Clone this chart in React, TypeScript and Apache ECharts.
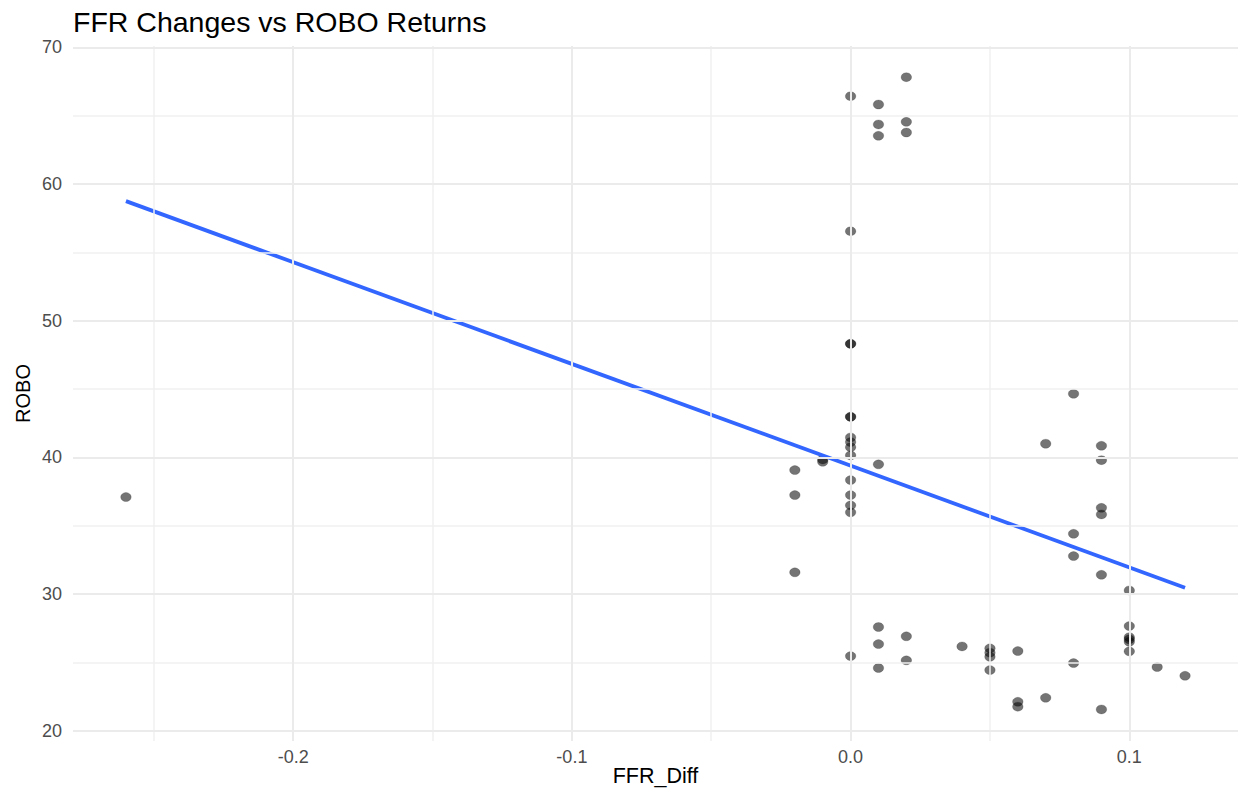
import React, { useEffect, useRef } from "react";
import * as echarts from "echarts";

const chartTitle = "FFR Changes vs ROBO Returns";
const xName = "FFR_Diff";
const yName = "ROBO";

const ffrDiff = [
  0, 0, 0, 0, 0, 0, 0, 0, 0, 0, 0, 0, 0, 0, 0,
  0.01, 0.01, 0.01, 0.01, 0.01, 0.01, 0.01,
  0.02, 0.02, 0.02, 0.02, 0.02,
  -0.01, -0.01,
  -0.02, -0.02, -0.02,
  -0.26,
  0.04,
  0.05, 0.05, 0.05, 0.05,
  0.06, 0.06, 0.06,
  0.07, 0.07,
  0.08, 0.08, 0.08, 0.08,
  0.09, 0.09, 0.09, 0.09, 0.09, 0.09,
  0.1, 0.1, 0.1, 0.1, 0.1, 0.1,
  0.11,
  0.12,
];
const robo = [
  66.43, 56.55, 48.31, 48.31, 42.97, 42.97, 41.46, 41.12, 40.75, 40.15, 38.34, 37.24, 36.49, 35.98, 25.46,
  65.82, 64.36, 63.53, 39.49, 27.59, 26.34, 24.59,
  67.82, 64.55, 63.77, 26.91, 25.15,
  39.85, 39.68,
  39.07, 37.24, 31.59,
  37.1,
  26.17,
  26.03, 25.71, 25.41, 24.44,
  25.83, 22.12, 21.76,
  41.0, 22.41,
  44.65, 34.41, 32.78, 24.95,
  40.85, 39.8, 36.31, 35.83, 31.41, 21.56,
  30.27, 27.66, 26.85, 26.69, 26.51, 25.81,
  24.66,
  24.02,
];

const fitX = [-0.26, 0.12];
const fitY = [58.75, 30.46];

const xMajorTicks = [-0.2, -0.1, 0, 0.1];
const xMinorTicks = [-0.25, -0.15, -0.05, 0.05];
const yMajorTicks = [20, 30, 40, 50, 60, 70];
const yMinorTicks = [25, 35, 45, 55, 65];

const xRange = [-0.279, 0.139];
const yRange = [19.25, 70.1];

function fmtX(v: number) {
  if (Math.abs(v) < 1e-9) return "0.0";
  return v.toFixed(1);
}

export default function App() {
  const ref = useRef<HTMLDivElement>(null);
  useEffect(() => {
    if (!ref.current) return;
    const chart = echarts.init(ref.current, undefined, { renderer: "svg" });
    const font = "'Liberation Sans', Arial, Helvetica, sans-serif";
    const gridLines = (vals: number[], axis: "xAxis" | "yAxis") =>
      vals.map((v) => ({ [axis]: v }));
    chart.setOption({
      animation: false,
      backgroundColor: "#ffffff",
      textStyle: { fontFamily: font },
      title: {
        text: chartTitle,
        left: 73,
        top: 7,
        padding: 0,
        textStyle: { fontSize: 28.5, fontWeight: "normal", color: "#000000", fontFamily: font },
      },
      grid: { left: 73, right: 1, top: 46, bottom: 49, containLabel: false, outerBoundsMode: "none" },
      xAxis: {
        type: "value",
        min: xRange[0],
        max: xRange[1],
        name: xName,
        nameLocation: "middle",
        nameGap: 24,
        nameMoveOverlap: false,
        nameTextStyle: { fontSize: 21.5, lineHeight: 22, color: "#000000", fontFamily: font },
        axisLine: { show: false },
        axisTick: { show: false, customValues: xMajorTicks },
        splitLine: { show: false },
        axisLabel: {
          customValues: xMajorTicks,
          formatter: (v: number) => fmtX(v),
          fontSize: 18,
          color: "#4d4d4d",
          margin: 7,
          fontFamily: font,
        },
      },
      yAxis: {
        type: "value",
        min: yRange[0],
        max: yRange[1],
        name: yName,
        nameLocation: "middle",
        nameGap: 40,
        nameRotate: 90,
        nameMoveOverlap: false,
        nameTextStyle: { fontSize: 20, color: "#000000", fontFamily: font },
        axisLine: { show: false },
        axisTick: { show: false, customValues: yMajorTicks },
        splitLine: { show: false },
        axisLabel: {
          customValues: yMajorTicks,
          formatter: (v: number) => String(Math.round(v)),
          fontSize: 18,
          color: "#4d4d4d",
          margin: 11,
          fontFamily: font,
        },
      },
      series: [
        {
          type: "scatter",
          data: [],
          z: 0,
          silent: true,
          markLine: {
            silent: true,
            symbol: "none",
            animation: false,
            label: { show: false },
            lineStyle: { color: "#f1f1f1", width: 1.5, type: "solid" },
            emphasis: { disabled: true },
            data: [...gridLines(xMinorTicks, "xAxis"), ...gridLines(yMinorTicks, "yAxis")],
          },
        },
        {
          type: "scatter",
          data: [],
          z: 1,
          silent: true,
          markLine: {
            silent: true,
            symbol: "none",
            animation: false,
            label: { show: false },
            lineStyle: { color: "#ebebeb", width: 2, type: "solid" },
            emphasis: { disabled: true },
            data: [...gridLines(xMajorTicks, "xAxis"), ...gridLines(yMajorTicks, "yAxis")],
          },
        },
        {
          type: "scatter",
          z: 3,
          symbol: "circle",
          symbolSize: [10.5, 9],
          itemStyle: { color: "rgba(0,0,0,0.68)", borderColor: "rgba(0,0,0,0.35)", borderWidth: 0.6 },
          data: ffrDiff.map((x, i) => [x, robo[i]]),
        },
        {
          type: "line",
          z: 4,
          showSymbol: false,
          symbol: "none",
          lineStyle: { color: "#3366FF", width: 3.8 },
          data: fitX.map((x, i) => [x, fitY[i]]),
        },
      ],
    });
    return () => chart.dispose();
  }, []);
  return (
    <div
      ref={ref}
      style={{ position: "absolute", left: 0, top: 0, width: 1239, height: 790 }}
    />
  );
}
